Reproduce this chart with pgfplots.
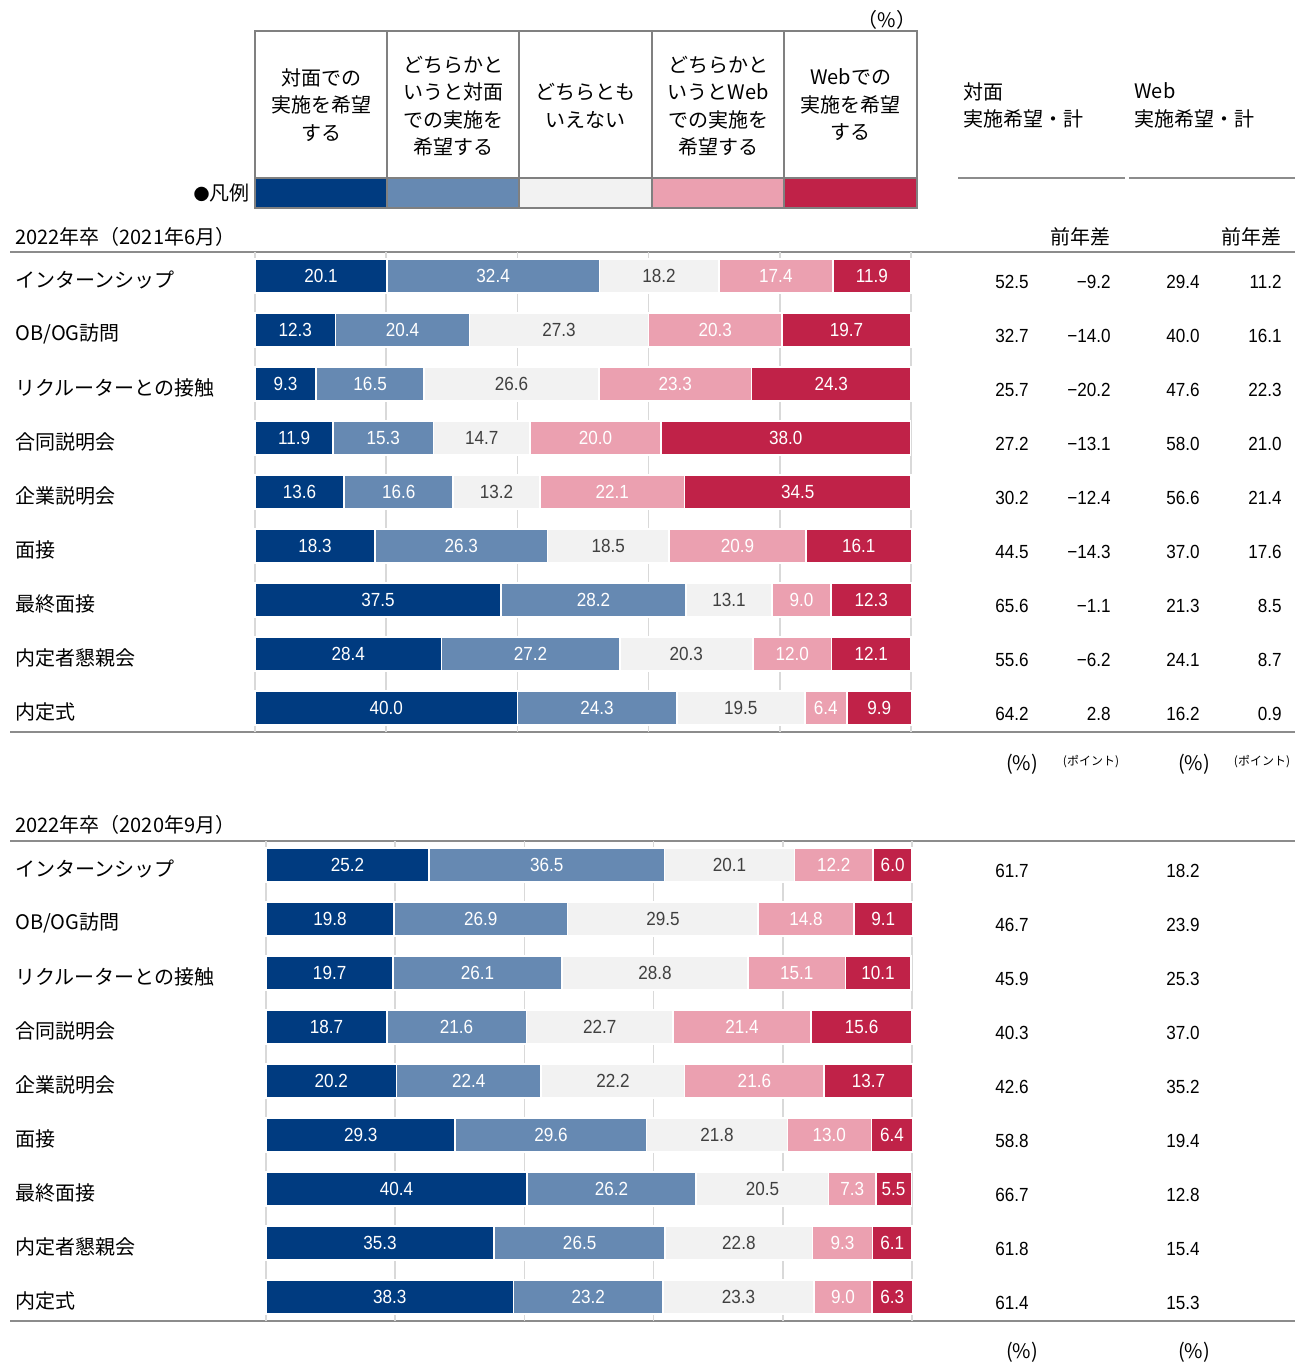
\documentclass[border=0pt]{standalone}
\usepackage{fontspec}
\setmainfont{Noto Sans CJK JP}
\newfontfamily\numfont[FakeStretch=0.9]{Liberation Sans}
\usepackage{pgfplots}
\usepackage{pgfplotstable}
\pgfplotsset{compat=1.18}

\definecolor{cA}{RGB}{0,59,128}
\definecolor{cB}{RGB}{102,137,178}
\definecolor{cC}{RGB}{242,242,242}
\definecolor{cD}{RGB}{235,160,176}
\definecolor{cE}{RGB}{192,34,72}
\definecolor{rulegray}{RGB}{140,140,140}
\definecolor{boxgray}{RGB}{128,128,128}
\definecolor{gridgray}{RGB}{217,217,217}
\definecolor{txtgray}{RGB}{64,64,64}

\newcommand\jp{\fontsize{10pt}{13.75pt}\selectfont}
\newcommand\nm{\numfont\fontsize{9.5pt}{11pt}\selectfont}

% 2022年卒（2021年6月）
\pgfplotstableread{
row a b c d e
1 20.1 32.4 18.2 17.4 11.9
2 12.3 20.4 27.3 20.3 19.7
3 9.3 16.5 26.6 23.3 24.3
4 11.9 15.3 14.7 20.0 38.0
5 13.6 16.6 13.2 22.1 34.5
6 18.3 26.3 18.5 20.9 16.1
7 37.5 28.2 13.1 9.0 12.3
8 28.4 27.2 20.3 12.0 12.1
9 40.0 24.3 19.5 6.4 9.9
}\topbars
\pgfplotstableread{
row tm td wm wd
1 52.5 −9.2 29.4 11.2
2 32.7 −14.0 40.0 16.1
3 25.7 −20.2 47.6 22.3
4 27.2 −13.1 58.0 21.0
5 30.2 −12.4 56.6 21.4
6 44.5 −14.3 37.0 17.6
7 65.6 −1.1 21.3 8.5
8 55.6 −6.2 24.1 8.7
9 64.2 2.8 16.2 0.9
}\toptxt

% 2022年卒（2020年9月）
\pgfplotstableread{
row a b c d e
1 25.2 36.5 20.1 12.2 6.0
2 19.8 26.9 29.5 14.8 9.1
3 19.7 26.1 28.8 15.1 10.1
4 18.7 21.6 22.7 21.4 15.6
5 20.2 22.4 22.2 21.6 13.7
6 29.3 29.6 21.8 13.0 6.4
7 40.4 26.2 20.5 7.3 5.5
8 35.3 26.5 22.8 9.3 6.1
9 38.3 23.2 23.3 9.0 6.3
}\botbars
\pgfplotstableread{
row tm wm
1 61.7 18.2
2 46.7 23.9
3 45.9 25.3
4 40.3 37.0
5 42.6 35.2
6 58.8 19.4
7 66.7 12.8
8 61.8 15.4
9 61.4 15.3
}\bottxt

\pgfplotsset{
  barax/.style={
    xbar stacked, scale only axis, width=#1, height=240pt,
    xmin=0, xmax=100, ymin=0.5556, ymax=9.4444, y dir=reverse,
    bar width=17pt, clip=false,
    axis line style={draw=none},
    xtick={0,20,...,100}, xticklabels={}, major tick length=0pt,
    xmajorgrids, grid style={color=gridgray, line width=0.8pt},
    ytick={1,...,9},
    yticklabels={インターンシップ, OB/OG訪問, リクルーターとの接触, 合同説明会,
      企業説明会, 面接, 最終面接, 内定者懇親会, 内定式},
    yticklabel style={anchor=west, inner sep=0pt, font=\jp, text=black, yshift=-2pt},
    point meta=explicit symbolic,
  },
  % stacked bar labels are centred in their segment by pgfplots
  seg/.style 2 args={
    fill=#1, draw=white, line width=0.8pt,
    nodes near coords,
    every node near coord/.append style={draw=none, fill=none, anchor=center,
      text=#2, font=\nm},
  },
  txtax/.style={
    scale only axis, width=647.5pt, height=240pt,
    xmin=0, xmax=1295, ymin=0.5556, ymax=9.4444, y dir=reverse,
    hide axis, clip=false, point meta=explicit symbolic,
  },
  txt/.style={
    draw=none, mark=none, nodes near coords,
    every node near coord/.append style={draw=none, anchor=east, inner sep=0pt,
      font=\nm, text=black, yshift=-3pt},
  },
}

\begin{document}
\begin{tikzpicture}
\begin{scope}[x=0.5pt, y=-0.5pt]
  \path (0,0) rectangle (1295,1363);
  \coordinate (A1) at (255,252);
  \coordinate (T1) at (0,252);
  \coordinate (A2) at (266,841);
  \coordinate (T2) at (0,841);

  % legend table
  \fill[cA] (255,178) rectangle (387,208);
  \fill[cB] (387,178) rectangle (519,208);
  \fill[cC] (519,178) rectangle (652,208);
  \fill[cD] (652,178) rectangle (784,208);
  \fill[cE] (784,178) rectangle (917,208);
  \draw[boxgray, line width=1.25pt] (255,31) rectangle (917,208);
  \draw[boxgray, line width=1.25pt] (255,178) -- (917,178);
  \foreach \xx in {387,519,652,784}
    \draw[boxgray, line width=1.25pt] (\xx,31) -- (\xx,208);
  \node[align=center, font=\jp] at (321,105) {対面での\\実施を希望\\する};
  \node[align=center, font=\jp] at (453,106) {どちらかと\\いうと対面\\での実施を\\希望する};
  \node[align=center, font=\jp] at (585.5,106) {どちらとも\\いえない};
  \node[align=center, font=\jp] at (718,106) {どちらかと\\いうとWeb\\での実施を\\希望する};
  \node[align=center, font=\jp] at (850.5,105) {Webでの\\実施を希望\\する};
  \node[anchor=east, font=\jp, inner sep=0pt] at (250,193) {{\fontsize{8pt}{9pt}\selectfont ●}凡例};
  \node[font=\jp, inner sep=0pt] at (887,20) {（\%）};

  % right headers
  \node[anchor=west, align=left, font=\jp, inner sep=0pt] at (963,105.5) {対面\\実施希望・計};
  \node[anchor=west, align=left, font=\jp, inner sep=0pt] at (1134,105.5) {Web\\実施希望・計};
  \draw[rulegray, line width=1.25pt] (958,178) -- (1125,178);
  \draw[rulegray, line width=1.25pt] (1129,178) -- (1295,178);
  \node[anchor=east, font=\jp, inner sep=0pt] at (1111,237) {前年差};
  \node[anchor=east, font=\jp, inner sep=0pt] at (1282,237) {前年差};

  % section titles and rules
  \node[anchor=west, font=\jp, inner sep=0pt] at (15,237) {2022年卒（2021年6月）};
  \node[anchor=west, font=\jp, inner sep=0pt] at (15,825) {2022年卒（2020年9月）};
  \foreach \yy in {252,732,841,1321}
    \draw[rulegray, line width=1.25pt] (10,\yy) -- (1295,\yy);

  % units
  \node[font=\jp, inner sep=0pt] at (1022,764) {(\%)};
  \node[font=\fontsize{6pt}{7pt}\selectfont, inner sep=0pt] at (1091,762) {(ポイント)};
  \node[font=\jp, inner sep=0pt] at (1194,764) {(\%)};
  \node[font=\fontsize{6pt}{7pt}\selectfont, inner sep=0pt] at (1262,762) {(ポイント)};
  \node[font=\jp, inner sep=0pt] at (1022,1352) {(\%)};
  \node[font=\jp, inner sep=0pt] at (1194,1352) {(\%)};
\end{scope}

% top bars
\begin{axis}[barax=328pt, at={(A1)}, anchor=north west,
  yticklabel style={xshift=-120pt}]
  \addplot[seg={cA}{white}] table[x=a, y=row, meta=a] {\topbars};
  \addplot[seg={cB}{white}] table[x=b, y=row, meta=b] {\topbars};
  \addplot[seg={cC}{txtgray}] table[x=c, y=row, meta=c] {\topbars};
  \addplot[seg={cD}{white}] table[x=d, y=row, meta=d] {\topbars};
  \addplot[seg={cE}{white}] table[x=e, y=row, meta=e] {\topbars};
\end{axis}
\begin{axis}[txtax, at={(T1)}, anchor=north west]
  \addplot[txt] table[x expr=1029, y=row, meta=tm] {\toptxt};
  \addplot[txt] table[x expr=1111, y=row, meta=td] {\toptxt};
  \addplot[txt] table[x expr=1200, y=row, meta=wm] {\toptxt};
  \addplot[txt] table[x expr=1282, y=row, meta=wd] {\toptxt};
\end{axis}

% bottom bars
\begin{axis}[barax=323pt, at={(A2)}, anchor=north west,
  yticklabel style={xshift=-125.5pt}]
  \addplot[seg={cA}{white}] table[x=a, y=row, meta=a] {\botbars};
  \addplot[seg={cB}{white}] table[x=b, y=row, meta=b] {\botbars};
  \addplot[seg={cC}{txtgray}] table[x=c, y=row, meta=c] {\botbars};
  \addplot[seg={cD}{white}] table[x=d, y=row, meta=d] {\botbars};
  \addplot[seg={cE}{white}] table[x=e, y=row, meta=e] {\botbars};
\end{axis}
\begin{axis}[txtax, at={(T2)}, anchor=north west]
  \addplot[txt] table[x expr=1029, y=row, meta=tm] {\bottxt};
  \addplot[txt] table[x expr=1200, y=row, meta=wm] {\bottxt};
\end{axis}
\end{tikzpicture}
\end{document}
